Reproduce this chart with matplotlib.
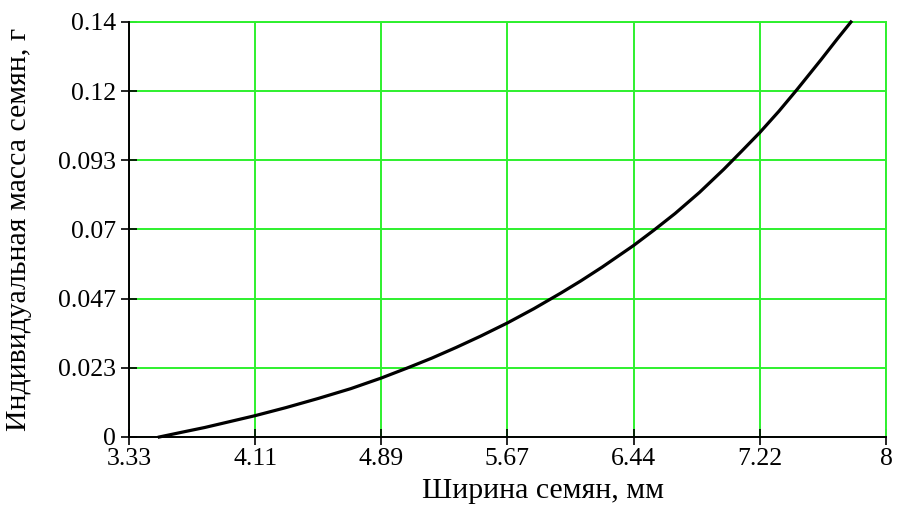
import numpy as np
import matplotlib
matplotlib.use("Agg")
import matplotlib.pyplot as plt

# ширина семян, мм  /  индивидуальная масса семян, г
shirina = [3.52, 3.65, 3.80, 4.111, 4.30, 4.50, 4.70, 4.889, 5.05, 5.20, 5.35,
           5.50, 5.667, 5.83, 6.00, 6.12, 6.25, 6.444, 6.57, 6.70, 6.85, 7.00,
           7.11, 7.222, 7.34, 7.45, 7.60, 7.70, 7.784]
massa = [0.0, 0.0015, 0.0032, 0.0072, 0.0099, 0.0130, 0.0163, 0.0199, 0.0233,
         0.0266, 0.0302, 0.0340, 0.0385, 0.0433, 0.0487, 0.0527, 0.0573, 0.0646,
         0.0698, 0.0754, 0.0825, 0.0903, 0.0964, 0.1027, 0.1099, 0.1171, 0.1273,
         0.1343, 0.1400]

x_min, x_max = 3.333, 8.0
y_min, y_max = 0.0, 0.14
x_labels = ["3.33", "4.11", "4.89", "5.67", "6.44", "7.22", "8"]
y_labels = ["0", "0.023", "0.047", "0.07", "0.093", "0.12", "0.14"]

plt.rcParams['font.family'] = ['Liberation Serif', 'DejaVu Serif']

fig = plt.figure(figsize=(8.97, 5.08), dpi=100)
ax = fig.add_axes([0.1438, 0.1398, 0.8439, 0.8169])

grid_color = '#2ef02e'
ax.set_xlim(x_min, x_max)
ax.set_ylim(y_min, y_max)
ax.set_xticks(np.linspace(x_min, x_max, len(x_labels)))
ax.set_xticklabels(x_labels)
ax.set_yticks(np.linspace(y_min, y_max, len(y_labels)))
ax.set_yticklabels(y_labels)
ax.grid(True, color=grid_color, linewidth=1.4)
ax.set_axisbelow(True)

for side in ['top', 'right']:
    ax.spines[side].set_color(grid_color)
    ax.spines[side].set_linewidth(1.4)
for side in ['left', 'bottom']:
    ax.spines[side].set_color('black')
    ax.spines[side].set_linewidth(1.4)
    ax.spines[side].set_zorder(3)

ax.tick_params(direction='inout', length=12, width=1.2, color='black',
               labelsize=18.5)
ax.tick_params(axis='y', pad=3.5)
ax.tick_params(axis='x', pad=2)

ax.plot(shirina, massa, color='black', linewidth=2.3, clip_on=False, zorder=4,
        solid_joinstyle='round')

ax.set_xlabel("Ширина семян, мм", fontsize=21.5)
ax.set_ylabel("Индивидуальная масса семян, г", fontsize=21.5)
ax.xaxis.set_label_coords(0.547, -0.099)
ax.yaxis.set_label_coords(-0.128, 0.5)

fig.savefig("out.png", dpi=100)
